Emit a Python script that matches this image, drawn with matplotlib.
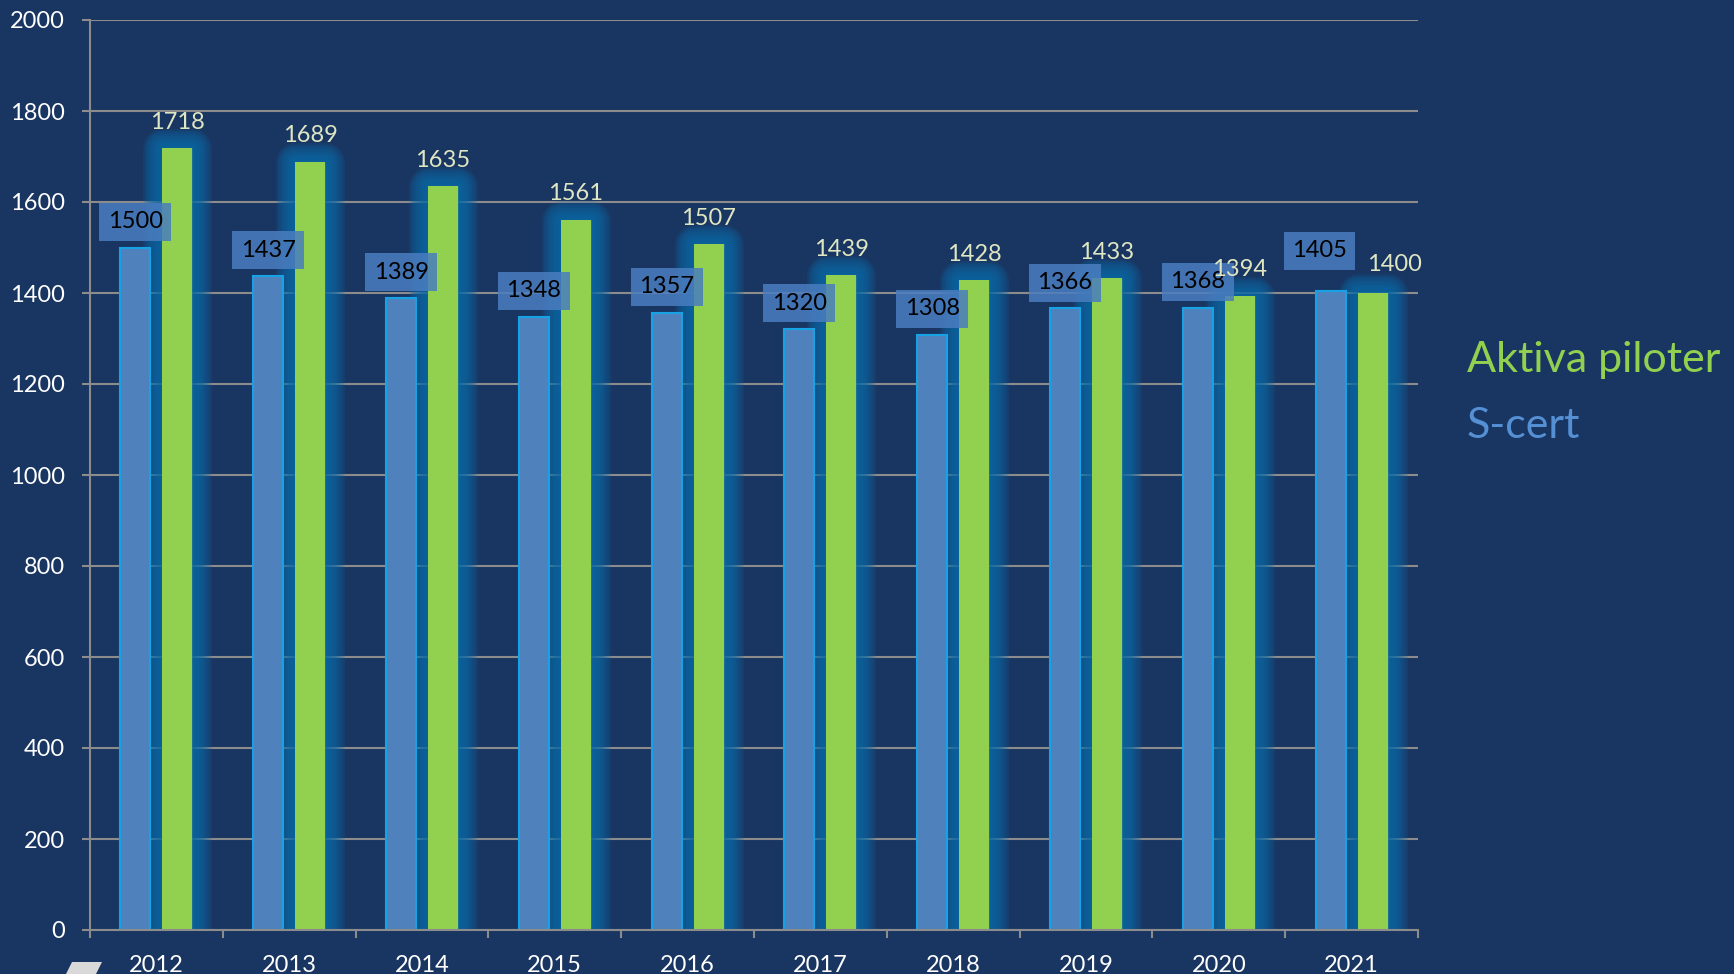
import matplotlib
matplotlib.use('Agg')
import matplotlib.pyplot as plt
import matplotlib.patheffects as pe
from matplotlib.patches import Polygon
import numpy as np

plt.rcParams['font.family'] = ['Lato', 'DejaVu Sans']

# ---- data ----
years = ['2012', '2013', '2014', '2015', '2016', '2017', '2018', '2019', '2020', '2021']
s_cert = [1500, 1437, 1389, 1348, 1357, 1320, 1308, 1366, 1368, 1405]
aktiva = [1718, 1689, 1635, 1561, 1507, 1439, 1428, 1433, 1394, 1400]
y_ticks = [0, 200, 400, 600, 800, 1000, 1200, 1400, 1600, 1800, 2000]
legend_labels = ['Aktiva piloter', 'S-cert']

# ---- style ----
BG = '#193662'
BLUE = '#4f81bd'
BLUE_EDGE = '#17a2e6'
GREEN = '#92d050'
GLOW = '#0a6aa8'
GRID = '#8c8c8c'
W, H = 1734, 974

# label offsets (points): default and per-index overrides
blue_off = {9: (-8, 24)}
green_off = {9: (15.5, 16)}
DEF_DY = 14

fig = plt.figure(figsize=(W / 100, H / 100), dpi=100, facecolor=BG)
ax = fig.add_axes([90 / W, 44 / H, (1418 - 90) / W, 910 / H])
ax.set_facecolor(BG)

x = np.arange(len(years))
bw = 0.225
off = 0.158

green_bars = ax.bar(x + off, aktiva, bw, color=GREEN, linewidth=0, zorder=3)
effects = []
for w in np.linspace(28, 2, 11):
    effects.append(pe.Stroke(linewidth=w, foreground=GLOW, alpha=0.16, joinstyle='round'))
effects.append(pe.Normal())
for b in green_bars:
    b.set_path_effects(effects)

ax.bar(x - off, s_cert, bw, color=BLUE, edgecolor=BLUE_EDGE, linewidth=1.5, zorder=4)

for i, v in enumerate(s_cert):
    dx, dy = blue_off.get(i, (0, DEF_DY))
    ax.annotate(str(v), (x[i] - off, v), xytext=(dx, dy), textcoords='offset points',
                ha='center', va='baseline', fontsize=17, color='black', zorder=6,
                bbox=dict(boxstyle='square,pad=0.36', fc='#4a7dc0', ec='none', alpha=0.85))

for i, v in enumerate(aktiva):
    dx, dy = green_off.get(i, (0, DEF_DY))
    ax.annotate(str(v), (x[i] + off, v), xytext=(dx, dy), textcoords='offset points',
                ha='center', va='baseline', fontsize=17, color='#dfe6c2', zorder=6)

ax.set_xlim(-0.5, len(years) - 0.5)
ax.set_ylim(0, 2000)
ax.set_yticks(y_ticks)
ax.set_yticklabels([str(t) for t in y_ticks])
ax.set_xticks(np.arange(len(years) + 1) - 0.5)
ax.set_xticklabels([])
ax.set_xticks(x, minor=True)
ax.set_xticklabels(years, minor=True)

ax.tick_params(axis='y', which='major', length=6, width=1.5, color=GRID,
               labelsize=17, labelcolor='white', pad=12)
ax.tick_params(axis='x', which='major', length=6, width=1.5, color=GRID)
ax.tick_params(axis='x', which='minor', length=0, labelsize=17, labelcolor='white', pad=18)

ax.yaxis.grid(True, color=GRID, linewidth=1.5)
ax.set_axisbelow(True)
for s in ['top', 'right']:
    ax.spines[s].set_visible(False)
for s in ['left', 'bottom']:
    ax.spines[s].set_color(GRID)
    ax.spines[s].set_linewidth(1.5)
    ax.spines[s].set_zorder(5)

fig.text(1467 / W, 1 - 372 / H, legend_labels[0], fontsize=31, color=GREEN,
         ha='left', va='baseline')
fig.text(1467 / W, 1 - 438 / H, legend_labels[1], fontsize=31, color='#5590d5',
         ha='left', va='baseline')

# small decorative shape at bottom-left of slide
poly = Polygon([(66 / W, 0), (72 / W, 12 / H), (102 / W, 12 / H), (96 / W, 0)],
               closed=True, transform=fig.transFigure, facecolor='#d9d9d9', edgecolor='none')
fig.patches.append(poly)

fig.savefig('out.png', dpi=100, facecolor=BG)
